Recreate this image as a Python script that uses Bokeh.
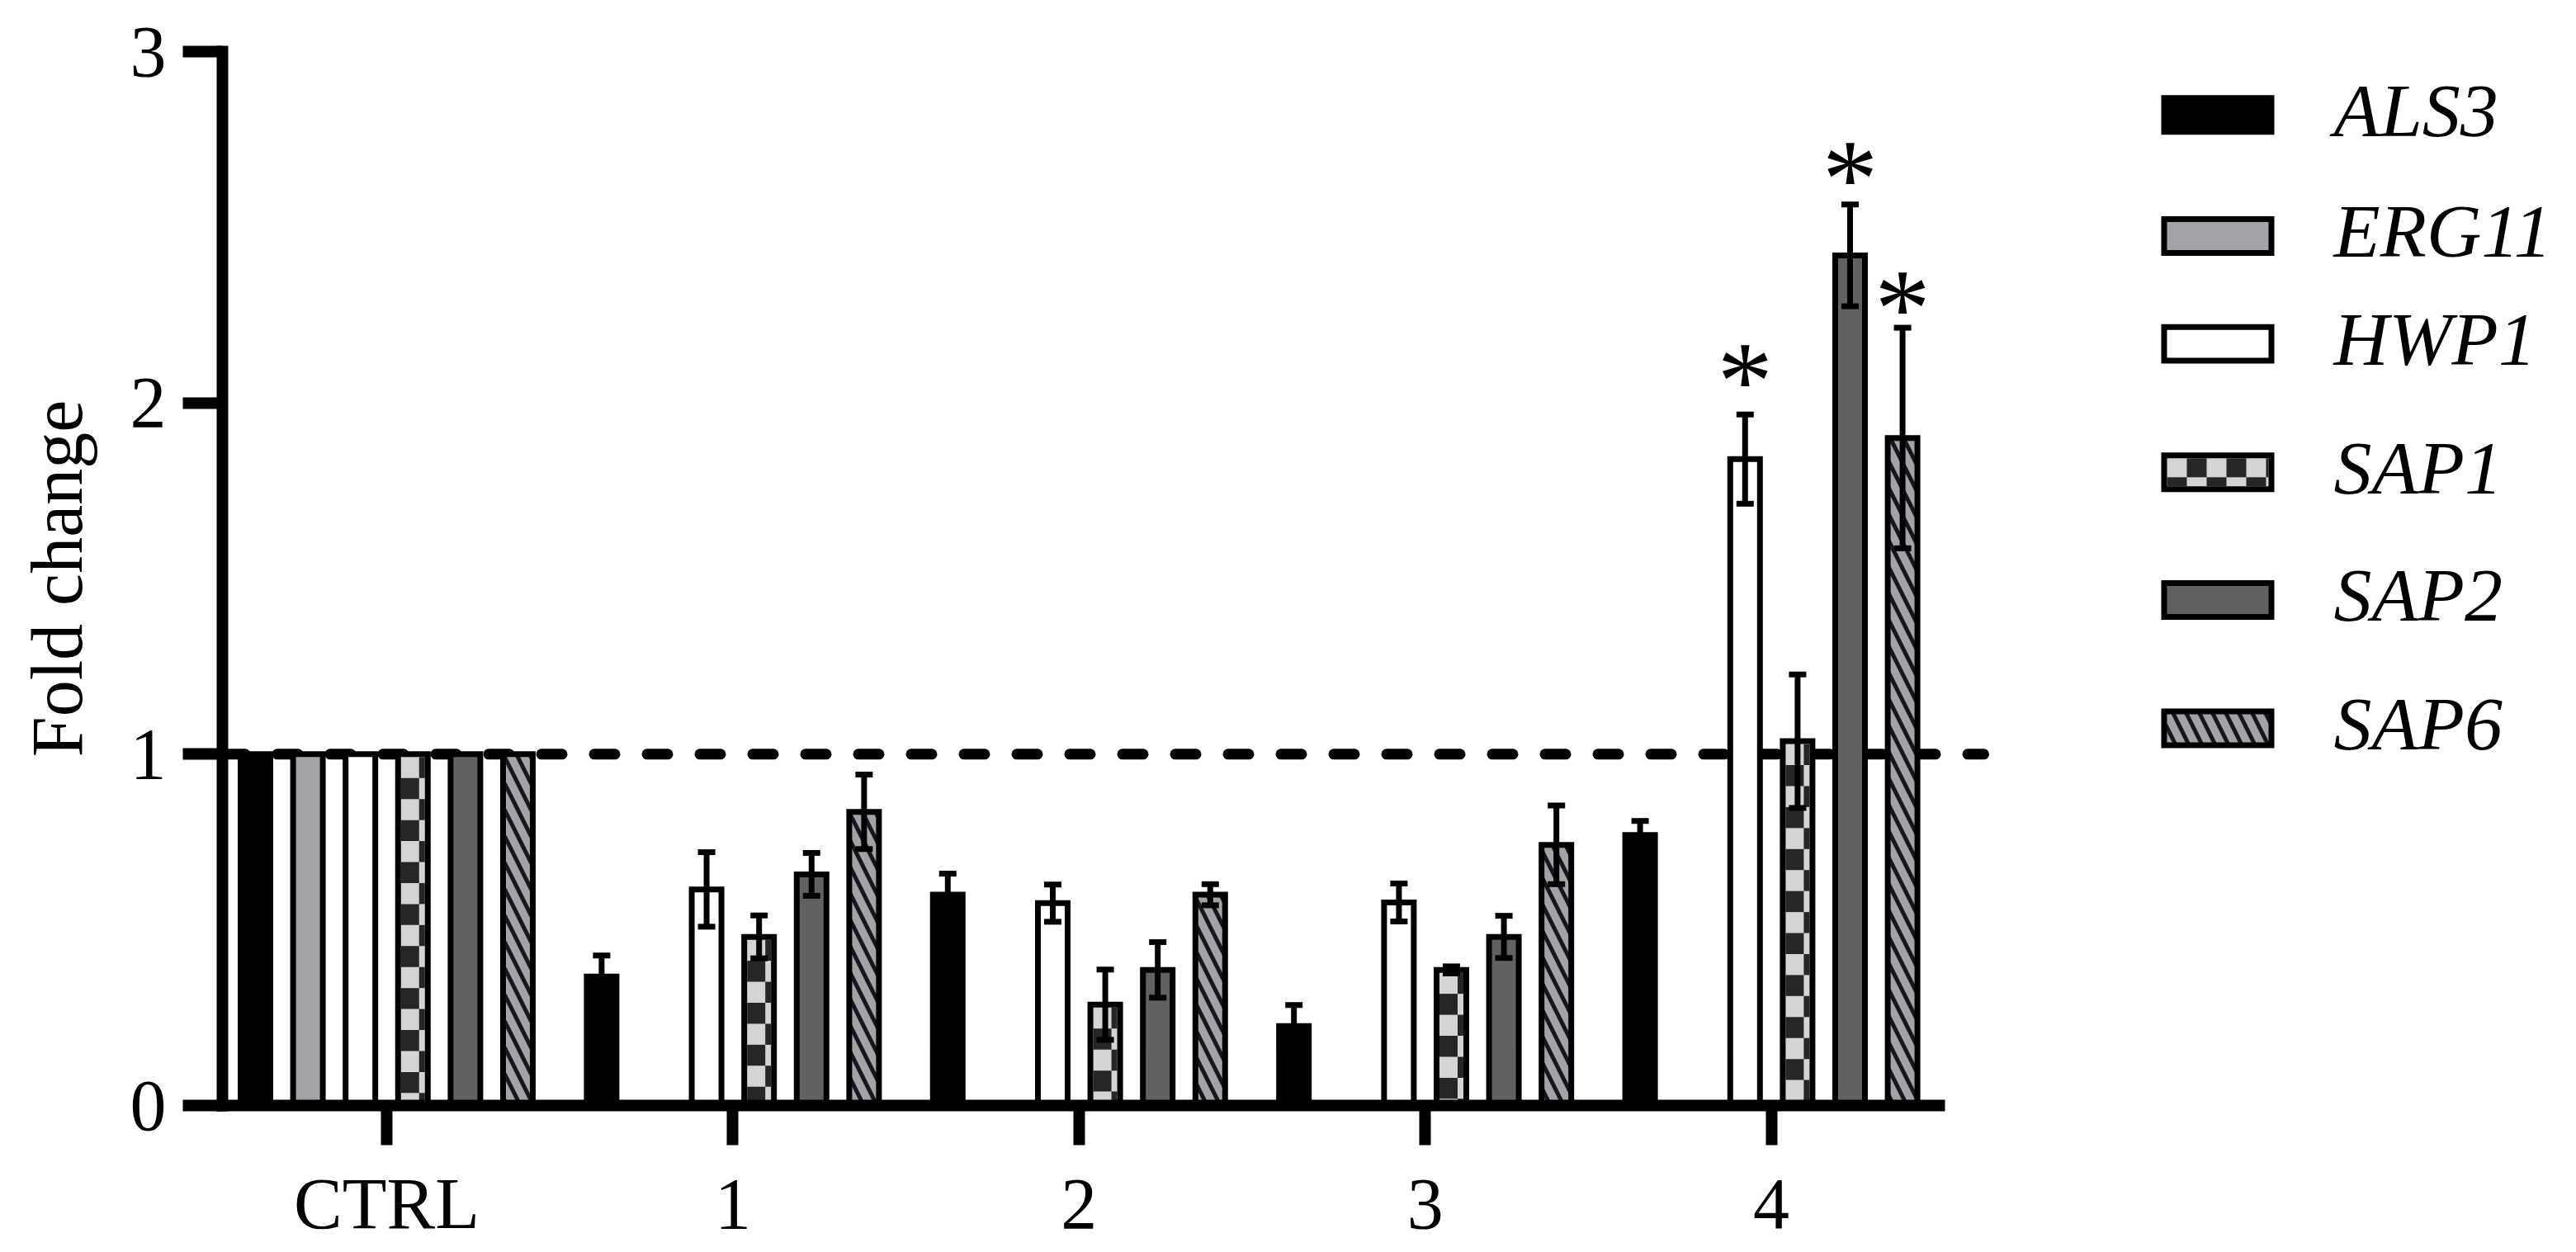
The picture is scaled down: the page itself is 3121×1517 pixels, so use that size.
from bokeh.plotting import figure
from bokeh.models import Range1d, FixedTicker, ColumnDataSource, Whisker, TeeHead
from bokeh.core.properties import value
from bokeh.embed import file_html
from bokeh.resources import INLINE

# ---------------- data ----------------
groups = ["CTRL", "1", "2", "3", "4"]
genes = ["ALS3", "ERG11", "HWP1", "SAP1", "SAP2", "SAP6"]

als3_mean = [1.0, 0.367, 0.600, 0.226, 0.770]
als3_sd = [0.0, 0.060, 0.060, 0.060, 0.040]
erg11_mean = [1.0, None, None, None, None]
erg11_sd = [0.0, None, None, None, None]
hwp1_mean = [1.0, 0.615, 0.576, 0.578, 1.840]
hwp1_sd = [0.0, 0.106, 0.053, 0.054, 0.127]
sap1_mean = [1.0, 0.480, 0.287, 0.386, 1.037]
sap1_sd = [0.0, 0.061, 0.100, 0.010, 0.190]
sap2_mean = [1.0, 0.658, 0.386, 0.480, 2.420]
sap2_sd = [0.0, 0.061, 0.079, 0.060, 0.145]
sap6_mean = [1.0, 0.836, 0.600, 0.742, 1.900]
sap6_sd = [0.0, 0.106, 0.030, 0.112, 0.314]

means = {"ALS3": als3_mean, "ERG11": erg11_mean, "HWP1": hwp1_mean,
         "SAP1": sap1_mean, "SAP2": sap2_mean, "SAP6": sap6_mean}
sds = {"ALS3": als3_sd, "ERG11": erg11_sd, "HWP1": hwp1_sd,
       "SAP1": sap1_sd, "SAP2": sap2_sd, "SAP6": sap6_sd}

# significance markers (gene, group, y position of the asterisk centre)
sig_gene = ["HWP1", "SAP2", "SAP6"]
sig_group = ["4", "4", "4"]
sig_y = [2.10, 2.676, 2.306]

ref_level = 1.0
y_ticks = [0, 1, 2, 3]
y_max = 3

# ---------------- layout constants (page pixels) ----------------
FIG_W, FIG_H = 3113, 1509
FRAME_LEFT_PX = 269.0
CTRL_PX = 468.0
X_PX = 419.4
Y_BOTTOM_PX = 1342.0
Y_TOP_PX = 62.0
X_START = (FRAME_LEFT_PX - CTRL_PX) / X_PX
X_END = X_START + (FIG_W - FRAME_LEFT_PX) / X_PX
Y_PER_PX = y_max / (Y_BOTTOM_PX - Y_TOP_PX)


def xd(px):
    return X_START + (px - FRAME_LEFT_PX) / X_PX


def yd(py):
    return (Y_BOTTOM_PX - py) * Y_PER_PX


BAR_STEP = 63.6 / X_PX
BAR_W = 36.0 / X_PX
LW = 7
FONT = "Liberation Serif"
DARK_CHECK = "#262626"

styles = {
    "ALS3": dict(fill_color="#000000"),
    "ERG11": dict(fill_color="#a2a3a7"),
    "HWP1": dict(fill_color="#ffffff"),
    "SAP1": dict(fill_color="#d4d4d4"),
    "SAP2": dict(fill_color="#616161"),
    "SAP6": dict(fill_color="#a2a3a7", hatch_pattern="left_diagonal_line",
                 hatch_color="#16161c", hatch_scale=32, hatch_weight=5),
}


def checker(x_lo, x_hi, y_hi, y_lo, sq_w_px, sq_h_px):
    """dark squares of a checkerboard filling [x_lo,x_hi]x[y_lo,y_hi] (data units),
    anchored at the top-left corner (top-left square light)."""
    L, R, T, B = [], [], [], []
    sw = sq_w_px / X_PX
    sh = sq_h_px * Y_PER_PX
    k = 0
    top = y_hi
    while top > y_lo + 1e-9:
        bot = max(y_lo, top - sh)
        c = 0
        left = x_lo
        while left < x_hi - 1e-9:
            right = min(x_hi, left + sw)
            if (k + c) % 2 == 1:
                L.append(left); R.append(right); T.append(top); B.append(bot)
            left = right
            c += 1
        top = bot
        k += 1
    return L, R, T, B


p = figure(width=FIG_W, height=FIG_H, output_backend="svg", toolbar_location=None,
           x_range=Range1d(X_START, X_END), y_range=Range1d(0, y_max),
           min_border_left=int(FRAME_LEFT_PX), min_border_right=0,
           min_border_top=int(Y_TOP_PX), min_border_bottom=int(FIG_H - Y_BOTTOM_PX))
p.outline_line_color = None
p.xgrid.visible = False
p.ygrid.visible = False
p.background_fill_color = "white"

# reference dashed line at fold change 1
p.segment(x0=[xd(271.5)], y0=[ref_level], x1=[xd(2403)], y1=[ref_level],
          line_color="black", line_width=13, line_dash="25 39", line_cap="round")

# bars
cq = dict(L=[], R=[], T=[], B=[])
half_inner = (36.0 - LW) / 2.0 / X_PX
for i, g in enumerate(genes):
    xs, tops = [], []
    for j, grp in enumerate(groups):
        m = means[g][j]
        if m is None:
            continue
        x = j + (i - 2.5) * BAR_STEP
        xs.append(x)
        tops.append(m)
        if g == "SAP1":
            L, R, T, B = checker(x - half_inner, x + half_inner, m - LW / 2 * Y_PER_PX, 0, 22, 25.5)
            cq["L"] += L; cq["R"] += R; cq["T"] += T; cq["B"] += B
    src = ColumnDataSource(dict(x=xs, top=tops))
    p.vbar(x="x", top="top", bottom=0, width=BAR_W, source=src,
           line_color="black", line_width=LW, line_join="miter", **styles[g])

p.quad(left=cq["L"], right=cq["R"], top=cq["T"], bottom=cq["B"],
       fill_color=DARK_CHECK, line_color=None)

# error bars
for i, g in enumerate(genes):
    xs, up, lo = [], [], []
    for j, grp in enumerate(groups):
        m, s = means[g][j], sds[g][j]
        if m is None or s is None or s == 0:
            continue
        xs.append(j + (i - 2.5) * BAR_STEP)
        up.append(m + s)
        lo.append(m - s)
    if not xs:
        continue
    esrc = ColumnDataSource(dict(base=xs, upper=up, lower=lo))
    w = Whisker(source=esrc, base="base", upper="upper", lower="lower",
                line_color="black", line_width=LW, level="annotation",
                upper_head=TeeHead(size=21, line_width=LW, line_color="black"),
                lower_head=TeeHead(size=21, line_width=LW, line_color="black"))
    p.add_layout(w)

# significance asterisks
sx = [groups.index(gr) + (genes.index(ge) - 2.5) * BAR_STEP for ge, gr in zip(sig_gene, sig_group)]
p.text(x=sx, y=sig_y, text=["*"] * len(sx), text_font=value(FONT), text_font_size="135px",
       text_align="center", text_baseline="alphabetic", y_offset=16, text_color="black")

# legend (drawn inside the frame, to the right of the x axis)
legend_rows_px = [139, 286, 417, 573, 728, 884]
sw_left, sw_right = 2621.5, 2751.5
LEG_FS = 92
for g, cy in zip(genes, legend_rows_px):
    p.quad(left=[xd(sw_left)], right=[xd(sw_right)], top=[yd(cy - 20.5)], bottom=[yd(cy + 20.5)],
           line_color="black", line_width=LW, line_join="miter", **styles[g])
    if g == "SAP1":
        L, R, T, B = checker(xd(sw_left + LW / 2), xd(sw_right - LW / 2),
                             yd(cy - 20.5 + LW / 2), yd(cy + 20.5 - LW / 2), 24, 23)
        p.quad(left=L, right=R, top=T, bottom=B, fill_color=DARK_CHECK, line_color=None)
    p.text(x=[xd(2827)], y=[yd(cy + 0.33 * LEG_FS)], text=[g], text_font=value(FONT),
           text_font_size=f"{LEG_FS}px", text_font_style="italic", text_align="left",
           text_baseline="alphabetic", y_offset=-0.39 * LEG_FS, text_color="black")

# axes
for ax in (p.xaxis[0], p.yaxis[0]):
    ax.axis_line_width = 14
    ax.axis_line_color = "black"
    ax.axis_line_cap = "square"
    ax.major_tick_line_width = 14
    ax.major_tick_line_color = "black"
    ax.major_tick_out = 48
    ax.major_tick_in = 0
    ax.minor_tick_line_color = None
    ax.major_label_text_font = FONT
    ax.major_label_text_font_size = "88px"
    ax.major_label_text_color = "black"

p.xaxis.ticker = FixedTicker(ticks=list(range(len(groups))))
p.xaxis.major_label_overrides = {i: g for i, g in enumerate(groups)}
p.xaxis.bounds = (X_START, xd(2349))
p.xaxis.major_label_standoff = 22

p.yaxis.ticker = FixedTicker(ticks=y_ticks)
p.yaxis.bounds = (0, y_max)
p.yaxis.major_label_standoff = 20
p.yaxis.axis_label = "Fold change"
p.yaxis.axis_label_text_font = FONT
p.yaxis.axis_label_text_font_size = "88px"
p.yaxis.axis_label_text_font_style = "normal"
p.yaxis.axis_label_text_color = "black"
p.yaxis.axis_label_standoff = 37

open("out.html", "w").write(file_html(p, INLINE))
